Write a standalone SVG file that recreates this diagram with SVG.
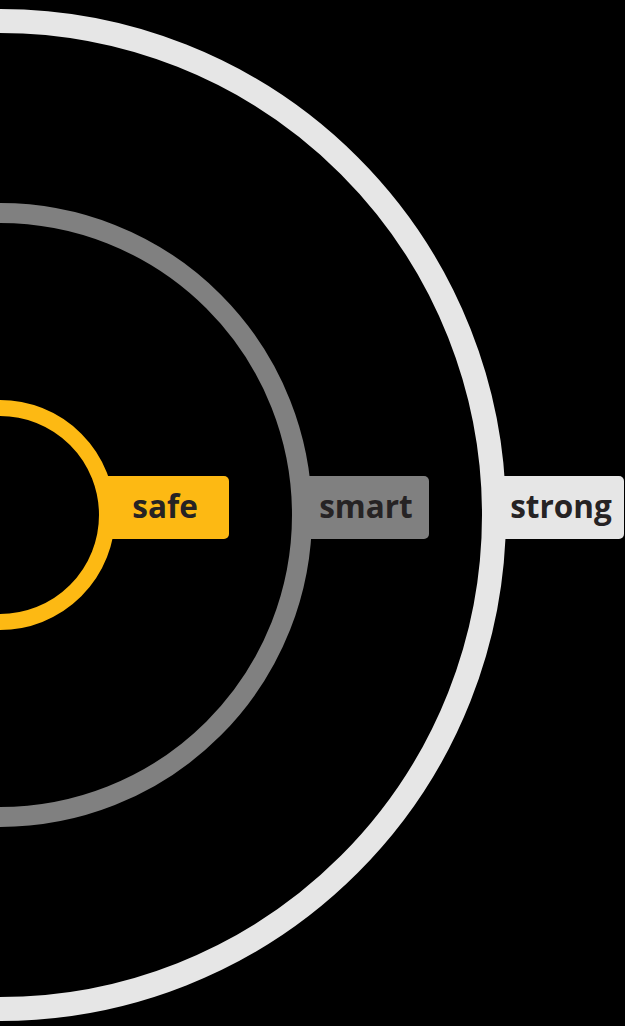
<svg xmlns="http://www.w3.org/2000/svg" width="625" height="1026" viewBox="0 0 625 1026">
<style>
.ring{fill:none}
.lbl{font-family:"Open Sans","Noto Sans","Liberation Sans",sans-serif;font-weight:700;font-size:31.5px;fill:#262324;text-anchor:middle}
</style>
<rect x="0" y="0" width="625" height="1026" fill="#000"/>
<g id="strong">
<circle class="ring" cx="0" cy="515" r="494" stroke="#E6E6E6" stroke-width="24"/>
<path d="M494 476 H619 a5 5 0 0 1 5 5 V534 a5 5 0 0 1 -5 5 H494 Z" fill="#E6E6E6"/>
<text class="lbl" x="561" y="518">strong</text>
</g>
<g id="smart">
<circle class="ring" cx="0" cy="515" r="302" stroke="#808080" stroke-width="20"/>
<path d="M300 476 H424 a5 5 0 0 1 5 5 V534 a5 5 0 0 1 -5 5 H300 Z" fill="#808080"/>
<text class="lbl" x="366" y="518">smart</text>
</g>
<g id="safe">
<circle class="ring" cx="0" cy="515" r="107" stroke="#FDB913" stroke-width="16"/>
<path d="M105 476 H224 a5 5 0 0 1 5 5 V534 a5 5 0 0 1 -5 5 H105 Z" fill="#FDB913"/>
<text class="lbl" x="165" y="518">safe</text>
</g>
<g id="connectors"></g>
</svg>
